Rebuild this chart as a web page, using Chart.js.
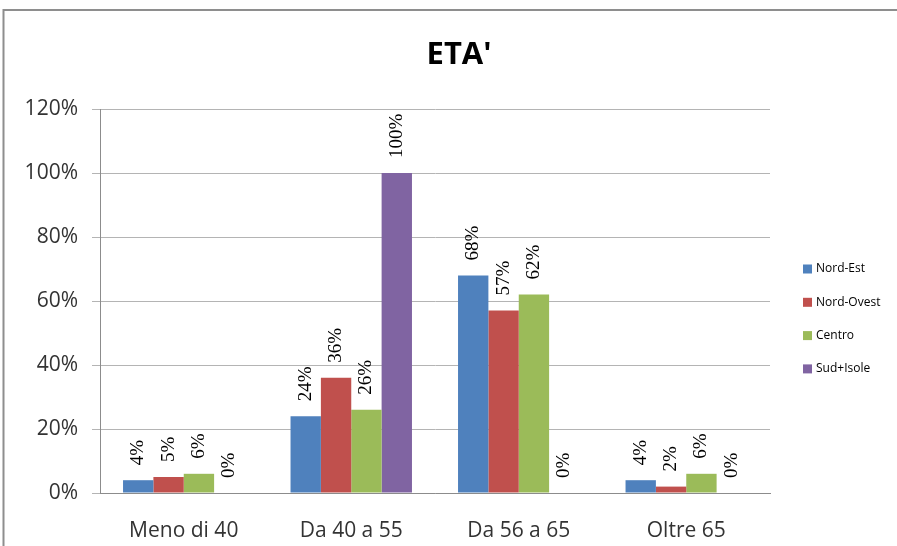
<!DOCTYPE html>
<html>
<head>
<meta charset="utf-8">
<script src="https://cdn.jsdelivr.net/npm/chart.js@4/dist/chart.umd.min.js"></script>
<style>
  html, body { margin: 0; padding: 0; background: #fff; }
  canvas { display: block; }
</style>
</head>
<body>
<canvas id="etaChart" width="897" height="546"></canvas>
<script>
const categories = ['Meno di 40', 'Da 40 a 55', 'Da 56 a 65', 'Oltre 65'];
const seriesNames = ['Nord-Est', 'Nord-Ovest', 'Centro', 'Sud+Isole'];
const nordEst = [4, 24, 68, 4];
const nordOvest = [5, 36, 57, 2];
const centro = [6, 26, 62, 6];
const sudIsole = [0, 100, 0, 0];
const yTicks = [0, 20, 40, 60, 80, 100, 120];
const colors = ['#4f81bd', '#c0504d', '#9bbb59', '#8064a2'];

Chart.defaults.font.family = "'Open Sans', sans-serif";

// frame, title, legend and rotated value labels drawn on the canvas
const decorations = {
    id: 'decorations',
    beforeDraw(chart) {
        const ctx = chart.ctx;
        ctx.save();
        ctx.fillStyle = '#fff';
        ctx.fillRect(0, 0, chart.width, chart.height);
        ctx.strokeStyle = '#8e8e8e';
        ctx.lineWidth = 2;
        ctx.beginPath();
        ctx.moveTo(3.5, chart.height);
        ctx.lineTo(3.5, 10);
        ctx.lineTo(chart.width, 10);
        ctx.stroke();
        ctx.restore();
    },
    afterDatasetsDraw(chart) {
        const ctx = chart.ctx;
        ctx.save();
        ctx.fillStyle = '#000';
        ctx.font = "19px 'Liberation Serif', serif";
        ctx.textAlign = 'left';
        ctx.textBaseline = 'middle';
        chart.data.datasets.forEach((ds, i) => {
            chart.getDatasetMeta(i).data.forEach((bar, j) => {
                ctx.save();
                ctx.translate(bar.x, bar.y - 15);
                ctx.rotate(-Math.PI / 2);
                ctx.fillText(ds.data[j] + '%', 0, 0);
                ctx.restore();
            });
        });
        ctx.restore();
    },
    afterDraw(chart) {
        const ctx = chart.ctx;
        ctx.save();
        ctx.fillStyle = '#000';
        ctx.font = "bold 31px 'Open Sans', sans-serif";
        ctx.textAlign = 'center';
        ctx.textBaseline = 'middle';
        ctx.fillText("ETA'", 459, 55);

        ctx.font = "12px 'Open Sans', sans-serif";
        ctx.textAlign = 'left';
        chart.data.datasets.forEach((ds, i) => {
            const y = 269 + i * 33.3;
            ctx.fillStyle = ds.backgroundColor;
            ctx.fillRect(803, y - 4.5, 9, 9);
            ctx.fillStyle = '#000';
            ctx.fillText(ds.label, 816, y);
        });
        ctx.restore();
    }
};

const series = [nordEst, nordOvest, centro, sudIsole];

new Chart(document.getElementById('etaChart'), {
    type: 'bar',
    data: {
        labels: categories,
        datasets: series.map((values, i) => ({
            label: seriesNames[i],
            data: values,
            backgroundColor: colors[i],
            borderWidth: 0,
            categoryPercentage: 0.725,
            barPercentage: 1.0
        }))
    },
    options: {
        responsive: false,
        animation: false,
        devicePixelRatio: 1,
        layout: { padding: { left: 0, right: 127, top: 109, bottom: 0 } },
        plugins: {
            legend: { display: false },
            title: { display: false },
            tooltip: { enabled: false }
        },
        scales: {
            y: {
                min: 0,
                max: 120,
                afterFit(scale) { scale.width = 100; },
                afterBuildTicks(scale) { scale.ticks = yTicks.map(v => ({ value: v })); },
                ticks: {
                    padding: 14,
                    color: '#333',
                    font: { size: 21 },
                    callback: v => v + '%'
                },
                grid: { color: '#b4b4b4', tickLength: 8, drawTicks: true },
                border: { color: '#8c8c8c' }
            },
            x: {
                afterFit(scale) { scale.height = 53; },
                ticks: { padding: 17, color: '#333', font: { size: 21 } },
                grid: { display: false },
                border: { display: true, color: '#8c8c8c' }
            }
        }
    },
    plugins: [decorations]
});
</script>
</body>
</html>
